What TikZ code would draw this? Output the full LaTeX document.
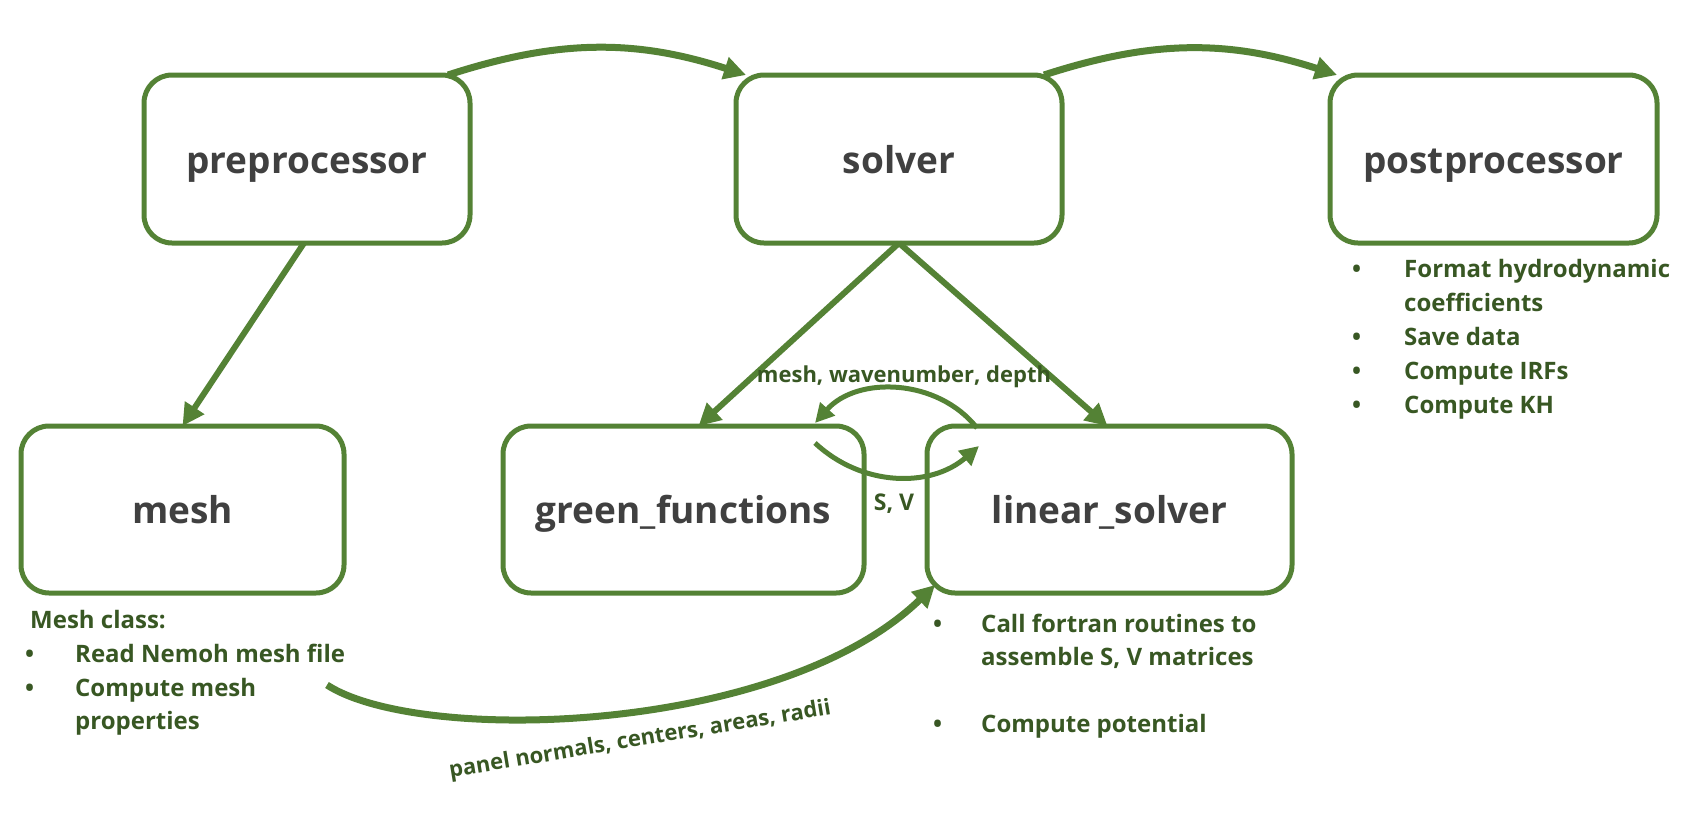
\documentclass[tikz,border=0pt]{standalone}
\usepackage{fontspec}
\setmainfont{Open Sans}
\usetikzlibrary{arrows.meta}
\definecolor{boxgreen}{HTML}{548235}
\definecolor{txtgreen}{HTML}{385723}
\definecolor{lblgray}{HTML}{404040}
\begin{document}
\begin{tikzpicture}[x=1pt,y=1pt,
  box/.style={draw=boxgreen, line width=5pt, rounded corners=28pt, minimum height=168pt,
    outer sep=0pt, inner sep=0pt, text=lblgray, font=\fontsize{37}{40}\selectfont\bfseries,
    text height=28pt, text depth=0pt},
  arr/.style={draw=boxgreen, line width=#1, -{Triangle[length=22pt,width=22pt]}},
  arr/.default=6pt,
  smallarr/.style={draw=boxgreen, line width=5pt, -{Triangle[length=19pt,width=19pt]}},
  bul/.style={anchor=base west, inner sep=0pt, text=txtgreen, font=\fontsize{24}{30}\selectfont\bfseries},
  lbl/.style={anchor=base, inner sep=0pt, text=txtgreen, font=\fontsize{22}{26}\selectfont\bfseries}
]
\useasboundingbox (0,0) rectangle (1702,-814);

% boxes
\node[box, minimum width=326pt] (pre) at (307,-159) {preprocessor};
\node[box, minimum width=326pt] (sol) at (899,-159) {solver};
\node[box, minimum width=327pt] (post) at (1493.5,-159) {postprocessor};
\node[box, minimum width=323pt, minimum height=167pt] (mesh) at (182.5,-509.5) {mesh};
\node[box, minimum width=361pt, minimum height=167pt] (green) at (683.5,-509.5) {green\_functions};
\node[box, minimum width=365pt, minimum height=167pt] (lin) at (1109.5,-509.5) {linear\_solver};

% top arcs
\draw[arr=7pt] ([xshift=-22pt]pre.north east) to[bend left=18] ([xshift=10pt]sol.north west);
\draw[arr=7pt] ([xshift=-18pt]sol.north east) to[bend left=18] ([xshift=7pt]post.north west);

% straight arrows
\draw[arr=6pt] ([xshift=-3pt]pre.south) -- (mesh.north);
\draw[arr=6pt] (sol.south) -- ([xshift=15pt]green.north);
\draw[arr=6pt] (sol.south) -- ([xshift=-2pt]lin.north);

% cycle between green_functions and linear_solver
\draw[smallarr] ([xshift=50pt,yshift=-2pt]lin.north west) to[bend right=50] ([xshift=-49pt,yshift=3pt]green.north east);
\draw[smallarr] ([xshift=-49pt,yshift=-17pt]green.north east) to[bend right=42] ([xshift=52pt,yshift=-20pt]lin.north west);
\node[lbl] (lmwd) at (904,-382) {mesh, wavenumber, depth};
\node[lbl, font=\fontsize{23}{26}\selectfont\bfseries] (lsv) at (894,-510) {S, V};

% mesh -> linear_solver
\coordinate (mstart) at (327,-685);
\draw[arr=7pt] (mstart) .. controls (420,-745) and (780,-735) .. ([xshift=8pt,yshift=8pt]lin.south west);
\node[lbl, rotate=9.4] (lpanel) at (641,-746) {panel normals, centers, areas, radii};

% mesh notes
\node[bul] (m0) at (30,-628) {Mesh class:};
\node[bul] (mb1) at (25,-662) {•};
\node[bul] (m1) at (75,-662) {Read Nemoh mesh file};
\node[bul] (mb2) at (25,-696) {•};
\node[bul] (m2) at (75,-696) {Compute mesh};
\node[bul] (m3) at (75,-729) {properties};

% linear_solver notes
\node[bul] (lb1) at (933,-632) {•};
\node[bul] (l1) at (981,-632) {Call fortran routines to};
\node[bul] (l2) at (981,-665) {assemble S, V matrices};
\node[bul] (lb2) at (933,-732) {•};
\node[bul] (l3) at (981,-732) {Compute potential};

% postprocessor notes
\node[bul] (pb1) at (1352,-277) {•};
\node[bul] (p1) at (1404,-277) {Format hydrodynamic};
\node[bul] (p2) at (1404,-311) {coefficients};
\node[bul] (pb2) at (1352,-345) {•};
\node[bul] (p3) at (1404,-345) {Save data};
\node[bul] (pb3) at (1352,-379) {•};
\node[bul] (p4) at (1404,-379) {Compute IRFs};
\node[bul] (pb4) at (1352,-413) {•};
\node[bul] (p5) at (1404,-413) {Compute KH};
\end{tikzpicture}
\end{document}
